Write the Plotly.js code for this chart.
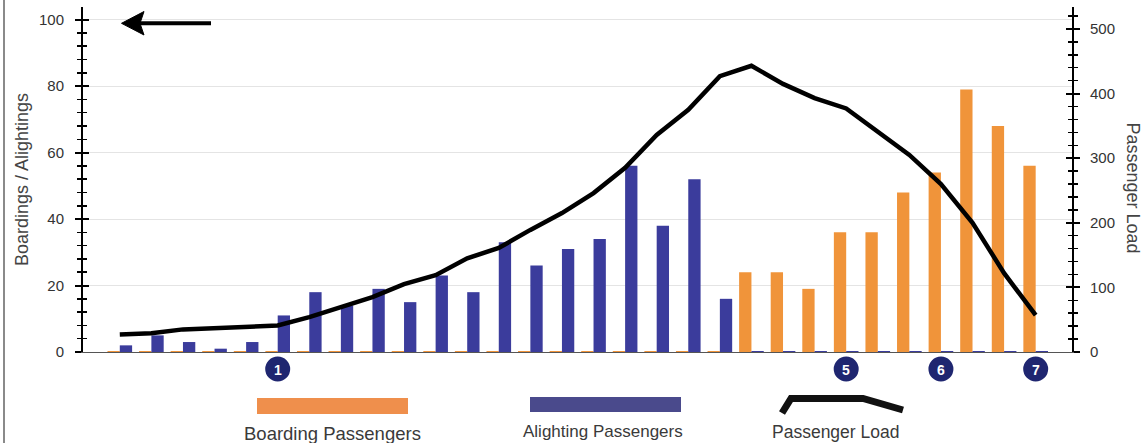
<!DOCTYPE html>
<html>
<head>
<meta charset="utf-8">
<script src="https://cdn.plot.ly/plotly-3.0.1.min.js"></script>
<style>
  html, body { margin: 0; padding: 0; background: #fff; }
  #chart { width: 1147px; height: 443px; }
</style>
</head>
<body>
<div id="chart"></div>
<script>
// ---- data ----
const stops = [0,1,2,3,4,5,6,7,8,9,10,11,12,13,14,15,16,17,18,19,20,21,22,23,24,25,26,27,28,29];
const boardings = [0,0,0,0,0,0,0,0,0,0,0,0,0,0,0,0,0,0,0,0,24,24,19,36,36,48,54,79,68,56];
const alightings = [2,5,3,1,3,11,18,14,19,15,23,18,33,26,31,34,56,38,52,16,0,0,0,0,0,0,0,0,0,0];
const passengerLoad = [27,29,35,37,39,41,54,70,85,105,119,145,161,189,215,246,285,336,375,427,443,415,393,377,341,305,260,200,122,57];
const markerStops = [5, 23, 26, 29];
const markerLabels = ['1', '5', '6', '7'];
const leftTicks = [0, 20, 40, 60, 80, 100];
const rightTicks = [0, 100, 200, 300, 400, 500];
const legendNames = ['Boarding Passengers', 'Alighting Passengers', 'Passenger Load'];
const leftTitle = 'Boardings / Alightings';
const rightTitle = 'Passenger Load';

// ---- styles ----
const ORANGE = '#f0943a';
const BLUE = '#3b3c9c';
const NAVY = '#1f2670';
const FONT = 'Liberation Sans, Arial, sans-serif';
const TXT = '#3a3a3a';

// pixel -> paper helpers (plot area 83..1072 x, 7..352 y)
const PL = 83, PR = 1072, PT = 7, PB = 352;
const px = v => (v - PL) / (PR - PL);
const py = v => (PB - v) / (PB - PT);

const traces = [
  {
    type: 'bar', name: legendNames[0], x: stops, y: boardings,
    marker: { color: ORANGE, line: { color: ORANGE, width: boardings.map(v => v === 0 ? 2 : 0) } },
    xaxis: 'x', yaxis: 'y', hoverinfo: 'skip'
  },
  {
    type: 'bar', name: legendNames[1], x: stops, y: alightings,
    marker: { color: BLUE, line: { color: BLUE, width: alightings.map(v => v === 0 ? 2 : 0) } },
    xaxis: 'x', yaxis: 'y', hoverinfo: 'skip'
  },
  { type: 'scatter', x: [], y: [], yaxis: 'y3', showlegend: false, hoverinfo: 'skip' },
  { type: 'scatter', x: [], y: [], yaxis: 'y4', showlegend: false, hoverinfo: 'skip' },
  {
    type: 'scatter', mode: 'lines', name: legendNames[2], x: stops, y: passengerLoad,
    line: { color: '#000', width: 4.5 }, xaxis: 'x', yaxis: 'y2', hoverinfo: 'skip'
  }
];

const leftRange = [0, 103.8];
const rightRange = [0, 534];

const shapes = [];
const annotations = [];

// stop markers
markerStops.forEach((s, i) => {
  shapes.push({
    type: 'circle', xref: 'x', yref: 'paper',
    xsizemode: 'pixel', ysizemode: 'pixel',
    xanchor: s, yanchor: py(369),
    x0: -12.5, x1: 12.5, y0: -12.5, y1: 12.5,
    fillcolor: NAVY, line: { width: 0 }, layer: 'above'
  });
  annotations.push({
    xref: 'x', yref: 'paper', x: s, y: py(369.5), text: '<b>' + markerLabels[i] + '</b>',
    showarrow: false, xanchor: 'center', yanchor: 'middle',
    font: { family: FONT, size: 14, color: '#fff' }
  });
});

// arrow top-left
shapes.push({ type: 'line', xref: 'paper', yref: 'paper', x0: px(211), x1: px(138), y0: py(23.3), y1: py(23.3), line: { color: '#000', width: 4 } });
shapes.push({ type: 'path', xref: 'paper', yref: 'paper',
  path: `M ${px(121.5)} ${py(23.3)} L ${px(144)} ${py(11.5)} L ${px(140)} ${py(23.3)} L ${px(144)} ${py(35)} Z`,
  fillcolor: '#000', line: { color: '#000', width: 1 } });

// legend
shapes.push({ type: 'rect', xref: 'paper', yref: 'paper', x0: px(257), x1: px(408), y0: py(398), y1: py(414), fillcolor: '#ef8f4c', line: { width: 0 } });
shapes.push({ type: 'rect', xref: 'paper', yref: 'paper', x0: px(530), x1: px(681), y0: py(397), y1: py(412), fillcolor: '#4a4a8c', line: { width: 0 } });
shapes.push({ type: 'path', xref: 'paper', yref: 'paper',
  path: `M ${px(782)} ${py(413)} L ${px(791)} ${py(398.5)} L ${px(863)} ${py(398.5)} L ${px(903)} ${py(410)}`,
  line: { color: '#111', width: 7 } });
annotations.push({ xref: 'paper', yref: 'paper', x: px(332), y: py(433), text: legendNames[0], showarrow: false,
  xanchor: 'center', yanchor: 'middle', font: { family: FONT, size: 18.5, color: TXT } });
annotations.push({ xref: 'paper', yref: 'paper', x: px(603), y: py(431), text: legendNames[1], showarrow: false,
  xanchor: 'center', yanchor: 'middle', font: { family: FONT, size: 17, color: TXT } });
annotations.push({ xref: 'paper', yref: 'paper', x: px(835.5), y: py(431.5), text: legendNames[2], showarrow: false,
  xanchor: 'center', yanchor: 'middle', font: { family: FONT, size: 17.5, color: TXT } });

// right axis title (reads top to bottom)
annotations.push({ xref: 'paper', yref: 'paper', x: px(1133), y: py(187.5), text: rightTitle, textangle: 90,
  showarrow: false, xanchor: 'center', yanchor: 'middle', font: { family: FONT, size: 18, color: '#444' } });

// left frame line
shapes.push({ type: 'line', xref: 'paper', yref: 'paper', x0: px(4), x1: px(4), y0: py(443), y1: py(0), line: { color: '#8a8a8a', width: 2 } });

const tickCommon = { ticklen: 6, tickwidth: 2, tickcolor: '#000' };

const layout = {
  width: 1147, height: 443,
  margin: { l: PL, r: 1147 - PR, t: PT, b: 443 - PB, pad: 0 },
  paper_bgcolor: '#fff', plot_bgcolor: '#fff',
  showlegend: false,
  barmode: 'group', bargap: 0.22, bargroupgap: 0,
  font: { family: FONT, color: TXT },
  xaxis: {
    range: [-1.165, 30.15], showgrid: false, zeroline: false, showticklabels: false, ticks: '',
    showline: true, linecolor: '#555', linewidth: 1, layer: 'below traces', fixedrange: true
  },
  yaxis: Object.assign({
    range: leftRange, tickvals: leftTicks, ticks: 'outside', showline: true, linecolor: '#000', linewidth: 2,
    showgrid: true, gridcolor: '#e4e4e4', gridwidth: 1, zeroline: false,
    tickfont: { family: FONT, size: 15, color: '#333' }, ticklabelstandoff: 8,
    minor: { dtick: 4, ticks: 'outside', ticklen: 4, tickwidth: 1.5, tickcolor: '#000', showgrid: false },
    title: { text: leftTitle, font: { family: FONT, size: 18, color: '#444' }, standoff: 6 },
    automargin: false, fixedrange: true
  }, tickCommon),
  yaxis2: Object.assign({
    overlaying: 'y', side: 'right', anchor: 'x',
    range: rightRange, tickvals: rightTicks, ticks: 'outside', showline: true, linecolor: '#000', linewidth: 2,
    showgrid: false, zeroline: false,
    tickfont: { family: FONT, size: 15, color: '#333' }, ticklabelstandoff: 7,
    minor: { dtick: 20, ticks: 'outside', ticklen: 4, tickwidth: 1.5, tickcolor: '#000', showgrid: false },
    automargin: false, fixedrange: true
  }, tickCommon),
  yaxis3: Object.assign({
    overlaying: 'y', side: 'left', anchor: 'x',
    range: leftRange, tickvals: leftTicks, ticks: 'inside', showticklabels: false, showline: false,
    showgrid: false, zeroline: false,
    minor: { dtick: 4, ticks: 'inside', ticklen: 4, tickwidth: 1.5, tickcolor: '#000', showgrid: false },
    fixedrange: true
  }, tickCommon),
  yaxis4: Object.assign({
    overlaying: 'y', side: 'right', anchor: 'x',
    range: rightRange, tickvals: rightTicks, ticks: 'inside', showticklabels: false, showline: false,
    showgrid: false, zeroline: false,
    minor: { dtick: 20, ticks: 'inside', ticklen: 4, tickwidth: 1.5, tickcolor: '#000', showgrid: false },
    fixedrange: true
  }, tickCommon),
  shapes: shapes,
  annotations: annotations
};

Plotly.newPlot('chart', traces, layout, { displayModeBar: false, staticPlot: true });
</script>
</body>
</html>
